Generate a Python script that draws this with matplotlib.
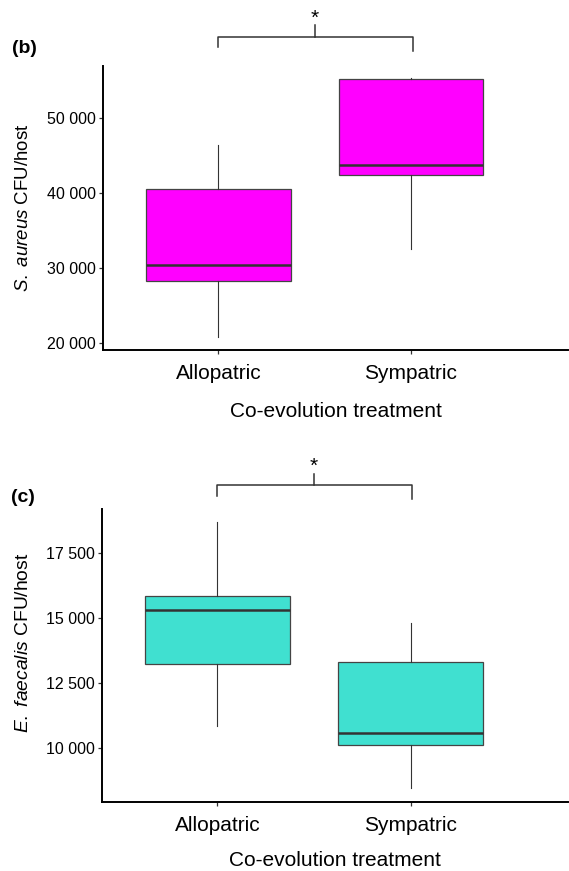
import matplotlib
matplotlib.use("Agg")
import matplotlib.pyplot as plt
import matplotlib.transforms as mtransforms

plt.rcParams['font.family'] = ['Liberation Sans', 'DejaVu Sans']
plt.rcParams['mathtext.fontset'] = 'custom'
plt.rcParams['mathtext.rm'] = 'Liberation Sans'
plt.rcParams['mathtext.it'] = 'Liberation Sans:italic'

categories = ["Allopatric", "Sympatric"]

# Panel (b): S. aureus CFU/host
b_whislo = [20880, 32530]
b_q1 = [28350, 42480]
b_med = [30400, 43810]
b_q3 = [40530, 55200]
b_whishi = [46400, 55330]
b_yticks = [20000, 30000, 40000, 50000]
b_yticklabels = ["20 000", "30 000", "40 000", "50 000"]
b_ylim = [19110, 57010]

# Panel (c): E. faecalis CFU/host
c_whislo = [10840, 8430]
c_q1 = [13240, 10090]
c_med = [15320, 10570]
c_q3 = [15860, 13310]
c_whishi = [18720, 14810]
c_yticks = [10000, 12500, 15000, 17500]
c_yticklabels = ["10 000", "12 500", "15 000", "17 500"]
c_ylim = [7920, 19210]

W, H = 569, 871
fig = plt.figure(figsize=(W / 100, H / 100), dpi=100)


def px_axes(left, top, right, bottom):
    return fig.add_axes([left / W, 1 - bottom / H, (right - left) / W, (bottom - top) / H])


def panel(ax, whislo, q1, med, q3, whishi, yticks, yticklabels, ylim, color, ylabel, tag,
          label_x, label_y, label_fs, xlabelpad, br_line, br_left, br_right, br_top, star_y):
    stats = []
    for i in range(len(categories)):
        stats.append(dict(whislo=whislo[i], q1=q1[i], med=med[i], q3=q3[i],
                          whishi=whishi[i], fliers=[]))
    ax.bxp(stats, positions=[1, 2], widths=0.75, showcaps=False, showfliers=False,
           patch_artist=True,
           boxprops=dict(facecolor=color, edgecolor='#444444', linewidth=0.9),
           medianprops=dict(color='#333333', linewidth=1.8),
           whiskerprops=dict(color='#333333', linewidth=0.8))
    ax.set_xlim(0.4017, 2.815)
    ax.set_ylim(*ylim)
    ax.set_xticks([1, 2])
    ax.set_xticklabels(categories, fontsize=15)
    ax.set_yticks(yticks)
    ax.set_yticklabels(yticklabels, fontsize=11.5)
    for s in ['top', 'right']:
        ax.spines[s].set_visible(False)
    for s in ['left', 'bottom']:
        ax.spines[s].set_linewidth(1.4)
        ax.spines[s].set_color('black')
    ax.tick_params(axis='both', length=3, width=0.9, color='#333333', labelcolor='black')
    ax.tick_params(axis='x', pad=7)
    ax.tick_params(axis='y', pad=2)
    ax.set_xlabel("Co-evolution treatment", fontsize=15, labelpad=xlabelpad)
    ax.set_ylabel(ylabel, fontsize=label_fs)
    ax.yaxis.set_label_coords(label_x, label_y)
    # significance bracket
    tr = mtransforms.blended_transform_factory(ax.transData, ax.transAxes)
    ax.plot([1, 1, 2.01, 2.01], [br_left, br_line, br_line, br_right], color='#333333',
            lw=1.1, transform=tr, clip_on=False)
    ax.plot([1.5, 1.5], [br_line, br_top], color='#333333', lw=1.1, transform=tr,
            clip_on=False)
    ax.text(1.5, star_y, "*", transform=tr, ha='center', va='center', fontsize=15)
    # panel tag
    ax.text(-0.195, br_left - 0.005, tag, transform=ax.transAxes, fontsize=14,
            fontweight='bold', ha='left', va='center')


ax_b = px_axes(103, 65.7, 568, 350)
panel(ax_b, b_whislo, b_q1, b_med, b_q3, b_whishi, b_yticks, b_yticklabels, b_ylim,
      '#FF00FF', r'$\mathit{S.\ aureus}$ CFU/host', '(b)', -0.153, 0.5, 13.4, 14,
      1.102, 1.0647, 1.0528, 1.142, 1.165)

ax_c = px_axes(101.7, 509, 568, 801.7)
panel(ax_c, c_whislo, c_q1, c_med, c_q3, c_whishi, c_yticks, c_yticklabels, c_ylim,
      '#40E0D0', r'$\mathit{E.\ faecalis}$ CFU/host', '(c)', -0.1495, 0.543, 13.9, 11.5,
      1.083, 1.0454, 1.0352, 1.121, 1.147)

fig.savefig("out.png", dpi=100)
